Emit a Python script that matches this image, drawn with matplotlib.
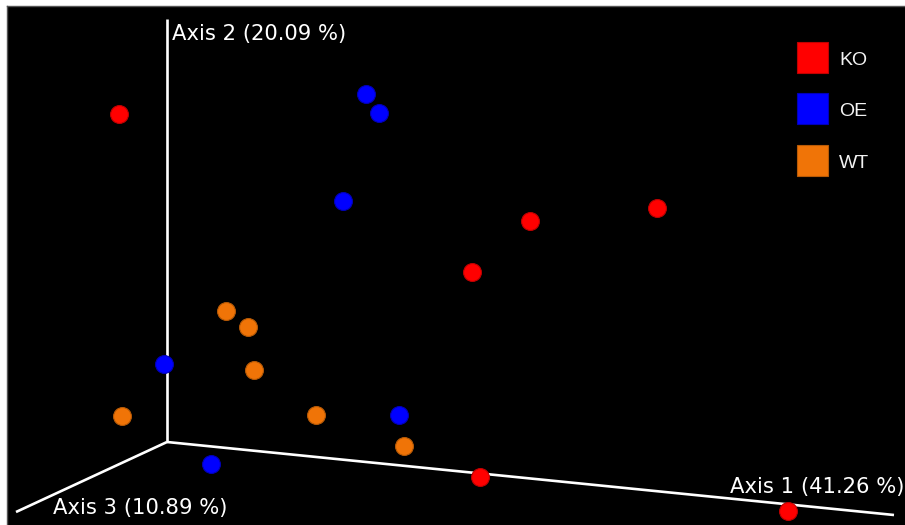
import matplotlib
matplotlib.use("Agg")
import matplotlib.pyplot as plt
from matplotlib.patches import Rectangle

# projected PCoA coordinates (screen plane of the 3D view)
groups = ["KO", "OE", "WT"]
colors = {"KO": "#ff0000", "OE": "#0000ff", "WT": "#f07407"}
edges = {"KO": "#c00000", "OE": "#0000b8", "WT": "#b85a06"}

ko_x = [119, 530, 657, 472, 480, 788]
ko_y = [114, 221, 208, 272, 477, 511]
oe_x = [366, 379, 343, 164, 399, 211]
oe_y = [94, 113, 201, 364, 415, 464]
wt_x = [226, 248, 254, 122, 316, 404]
wt_y = [311, 327, 370, 416, 415, 446]

# axis lines: origin and end points
origin = (167, 442)
axis_ends = {"Axis 1 (41.26 %)": (894, 515),
             "Axis 2 (20.09 %)": (167, 19),
             "Axis 3 (10.89 %)": (16, 512)}

fig = plt.figure(figsize=(9.05, 5.25), dpi=100)
fig.patch.set_facecolor("white")
ax = fig.add_axes([7 / 905, 0, 898 / 905, 519 / 525])
ax.set_facecolor("black")
ax.set_xlim(7, 905)
ax.set_ylim(525, 6)
ax.set_xticks([])
ax.set_yticks([])
for side in ["bottom", "right"]:
    ax.spines[side].set_visible(False)
for side in ["top", "left"]:
    ax.spines[side].set_color("#555555")
    ax.spines[side].set_linewidth(1)

for name, (ex, ey) in axis_ends.items():
    ax.plot([origin[0], ex], [origin[1], ey], color="white", lw=1.9,
            solid_capstyle="butt", zorder=1)

data = {"KO": (ko_x, ko_y), "OE": (oe_x, oe_y), "WT": (wt_x, wt_y)}
for g in groups:
    xs, ys = data[g]
    ax.scatter(xs, ys, s=165, color=colors[g], edgecolors=edges[g],
               linewidths=0.8, zorder=3)

# axis labels
font = dict(family="DejaVu Sans", size=15.2, color="white", va="baseline")
ax.text(172, 40, "Axis 2 (20.09 %)", ha="left", **font)
ax.text(53, 514, "Axis 3 (10.89 %)", ha="left", **font)
ax.text(905, 493, "Axis 1 (41.26 %)", ha="right", **font)

# legend
leg_y = [42, 93, 145]
for g, y in zip(groups, leg_y):
    ax.add_patch(Rectangle((797, y + 31), 31, -31, facecolor=colors[g],
                           edgecolor=edges[g], lw=0.8, zorder=4))
    ax.text(839, y + 18.5, g, ha="left", va="center", color="#f2f2f2",
            family="Liberation Sans", size=14)

fig.savefig("out.png", dpi=100, facecolor=fig.get_facecolor())
